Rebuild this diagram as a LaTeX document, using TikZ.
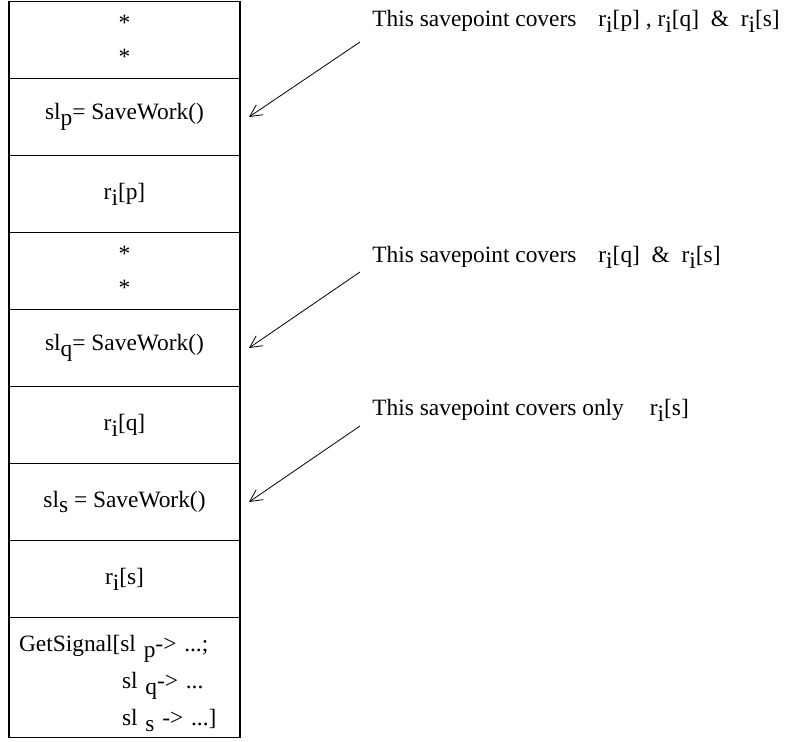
\documentclass[tikz,border=0pt]{standalone}
\usepackage{fontspec}
\setmainfont{Liberation Serif}
\usetikzlibrary{arrows.meta, positioning}
\newcommand{\lowr}[1]{\raisebox{-0.55ex}{#1}}

\begin{document}
\begin{tikzpicture}[x=0.5pt, y=-0.5pt, font=\fontsize{11.7}{14}\selectfont,
  cell/.style={draw, line width=0.8pt, minimum width=115.5pt, minimum height=38.5pt,
    inner sep=0pt, outer sep=0pt, align=center},
  pointer/.style={-{Straight Barb[length=6pt,width=6pt]}, line width=0.4pt},
  note/.style={anchor=west, inner sep=0pt}]
\useasboundingbox (0,0) rectangle (789,742);
% the column of program steps
\node[cell, anchor=north west] (dotsa) at (9,1.5) {\raisebox{-3.5pt}{*}\\[3pt]\raisebox{-3.5pt}{*}};
\node[cell, below=0pt of dotsa] (slp) {sl\lowr{p}= SaveWork()};
\node[cell, below=0pt of slp] (rp) {r\lowr{i}[p]};
\node[cell, below=0pt of rp] (dotsb) {\raisebox{-3.5pt}{*}\\[3pt]\raisebox{-3.5pt}{*}};
\node[cell, below=0pt of dotsb] (slq) {sl\lowr{q}= SaveWork()};
\node[cell, below=0pt of slq] (rq) {r\lowr{i}[q]};
\node[cell, below=0pt of rq] (sls) {sl\lowr{s} = SaveWork()};
\node[cell, below=0pt of sls] (rs) {r\lowr{i}[s]};
\node[cell, below=0pt of rs, minimum height=60pt, align=left, inner xsep=5pt,
  text width=105.5pt] (sig) {\rule{0pt}{14pt}GetSignal[sl \lowr{p}-> ...;\\[4.5pt]
  \hspace*{51.5pt}sl \lowr{q}-> ...\\[4.5pt]
  \hspace*{51.5pt}sl \lowr{s} -> ...]};
% notes on the right
\node[note] (notep) at (372,21) {This savepoint covers\hspace{11pt}r\lowr{i}[p] , r\lowr{i}[q] ~\&~ r\lowr{i}[s]};
\node[note] (noteq) at (372,257) {This savepoint covers\hspace{11pt}r\lowr{i}[q] ~\&~ r\lowr{i}[s]};
\node[note] (notes) at (372,410) {This savepoint covers only\hspace{13pt}r\lowr{i}[s]};
\coordinate (tailp) at ([shift={(120,-75)}]slp.east);
\coordinate (tailq) at ([shift={(120,-76)}]slq.east);
\coordinate (tails) at ([shift={(120,-76)}]sls.east);
\draw[pointer] (tailp) -- ([shift={(9,0)}]slp.east);
\draw[pointer] (tailq) -- ([shift={(9,0)}]slq.east);
\draw[pointer] (tails) -- ([shift={(9,0)}]sls.east);
\end{tikzpicture}
\end{document}
